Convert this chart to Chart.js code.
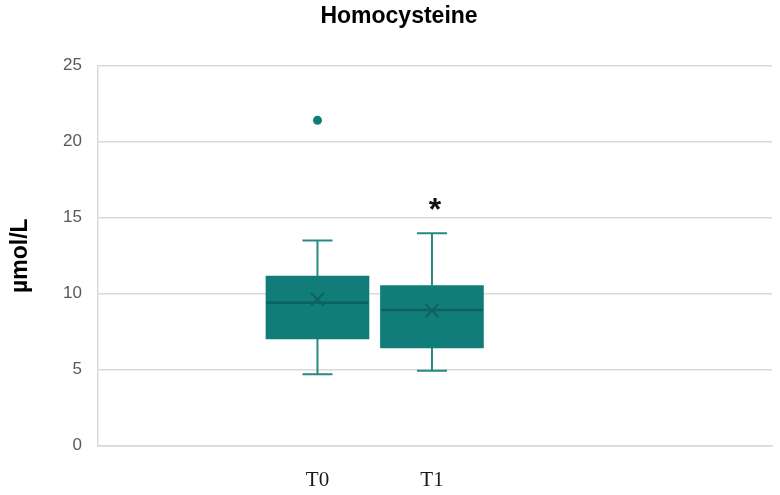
<!DOCTYPE html>
<html>
<head>
<meta charset="utf-8">
<script src="https://cdn.jsdelivr.net/npm/chart.js@4"></script>
<style>
  html, body { margin: 0; padding: 0; background: #fff; }
  #wrap { width: 780px; height: 495px; position: relative; }
</style>
</head>
<body>
<div id="wrap"><canvas id="box"></canvas></div>
<script>
// box plot values (µmol/L)
const groups = ['T0', 'T1'];
const whiskerLow = [4.70, 4.93];
const q1 = [7.02, 6.43];
const median = [9.41, 8.93];
const mean = [9.63, 8.88];
const q3 = [11.16, 10.53];
const whiskerHigh = [13.49, 13.97];
const outliers = [[21.4], []];
const sigMark = [null, 15.9];   // where the * sits
const yTicks = [0, 5, 10, 15, 20, 25];

const teal = '#117d79';
const tealDark = '#0b625f';
const tealLine = '#2a8783';

// build the series from the arrays above
const boxData = groups.map((g, i) => ({ x: i + 1, y: [q1[i], q3[i]] }));
const whiskerData = [];
groups.forEach((g, i) => {
  const x = i + 1;
  whiskerData.push({ x, y: whiskerLow[i] }, { x, y: q1[i] }, { x, y: null });
  whiskerData.push({ x, y: q3[i] }, { x, y: whiskerHigh[i] }, { x, y: null });
});
const capData = [];
groups.forEach((g, i) => {
  capData.push({ x: i + 1, y: whiskerLow[i] }, { x: i + 1, y: whiskerHigh[i] });
});
const medianData = groups.map((g, i) => ({ x: i + 1, y: median[i] }));
const meanData = groups.map((g, i) => ({ x: i + 1, y: mean[i] }));
const outlierData = [];
outliers.forEach((arr, i) => arr.forEach(v => outlierData.push({ x: i + 1, y: v })));

// draws the significance asterisk at its data position
const sigPlugin = {
  id: 'sig',
  afterLayout(chart) {
    // title sits a little right of the canvas centre in the original
    if (chart.titleBlock) chart.titleBlock.left = 26;
  },
  afterDatasetsDraw(chart) {
    const { ctx, scales: { x, y } } = chart;
    ctx.save();
    ctx.font = 'bold 32px "Liberation Sans", Arial, sans-serif';
    ctx.fillStyle = '#111';
    ctx.textAlign = 'center';
    ctx.textBaseline = 'alphabetic';
    sigMark.forEach((v, i) => {
      if (v == null) return;
      const m = ctx.measureText('*');
      const px = x.getPixelForValue(i + 1) + 3;
      const py = y.getPixelForValue(v) + (m.actualBoundingBoxAscent - m.actualBoundingBoxDescent) / 2;
      ctx.fillText('*', px, py);
    });
    ctx.restore();
  }
};

new Chart(document.getElementById('box'), {
  type: 'bar',
  data: {
    datasets: [
      { type: 'bar', data: boxData, backgroundColor: teal, borderWidth: 0, barThickness: 103, order: 3 },
      { type: 'line', data: whiskerData, borderColor: tealLine, borderWidth: 2, pointRadius: 0, spanGaps: false, order: 4 },
      { type: 'scatter', data: capData, pointStyle: 'line', pointRadius: 15, borderColor: tealLine, borderWidth: 2, order: 2 },
      { type: 'scatter', data: medianData, pointStyle: 'line', pointRadius: 51, borderColor: tealDark, borderWidth: 2.5, order: 1 },
      { type: 'scatter', data: meanData, pointStyle: 'crossRot', pointRadius: 9, borderColor: tealDark, borderWidth: 2, order: 1 },
      { type: 'scatter', data: outlierData, pointStyle: 'circle', pointRadius: 4.5, backgroundColor: teal, borderColor: teal, borderWidth: 0, order: 1 }
    ]
  },
  options: {
    responsive: true,
    maintainAspectRatio: false,
    animation: false,
    events: [],
    layout: { autoPadding: false, padding: { left: 0, right: 8, top: 0, bottom: 0 } },
    plugins: {
      legend: { display: false },
      tooltip: { enabled: false },
      title: {
        display: true,
        text: 'Homocysteine',
        color: '#000',
        font: { family: '"Liberation Sans", Arial, sans-serif', size: 23, weight: 'bold' },
        padding: { top: 3, bottom: 35 }
      }
    },
    scales: {
      x: {
        type: 'linear',
        offset: false,
        min: -0.917,
        max: 4.97,
        afterBuildTicks: s => { s.ticks = groups.map((g, i) => ({ value: i + 1 })); },
        afterFit: s => { s.height = 49.3; s.paddingRight = 0; s.paddingLeft = 0; },
        ticks: {
          callback: (v, i) => groups[i],
          color: '#1a1a1a',
          padding: 22,
          font: { family: '"Liberation Serif", "Times New Roman", serif', size: 21 }
        },
        grid: { display: false, drawTicks: false },
        border: { display: true, color: '#d9d9d9', width: 1.5 }
      },
      y: {
        min: 0,
        max: 25,
        afterBuildTicks: s => { s.ticks = yTicks.map(v => ({ value: v })); },
        afterFit: s => { s.width = 98; },
        ticks: {
          color: '#595959',
          padding: 16,
          font: { family: '"Liberation Sans", Arial, sans-serif', size: 17 }
        },
        grid: { color: '#d9d9d9', lineWidth: 1.5, drawTicks: false },
        border: { display: true, color: '#d9d9d9', width: 1.5 },
        title: {
          display: true,
          text: 'µmol/L',
          color: '#000',
          padding: { top: 7, bottom: 0 },
          font: { family: '"Liberation Sans", Arial, sans-serif', size: 23, weight: 'bold' }
        }
      }
    }
  },
  plugins: [sigPlugin]
});
</script>
</body>
</html>
